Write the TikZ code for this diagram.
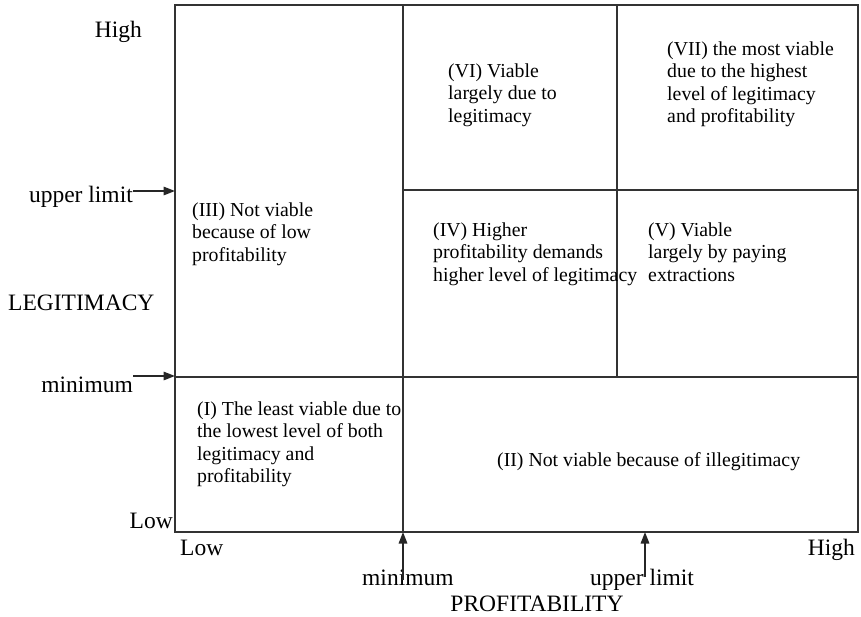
\documentclass[tikz,border=0pt]{standalone}
\usepackage{fontspec}
\setmainfont{Liberation Serif}
\usetikzlibrary{arrows.meta}
% stacked lines whose baseline is that of the first line
\newcommand{\celltext}[1]{\begin{tabular}[t]{@{}l@{}}#1\end{tabular}}
\begin{document}
\begin{tikzpicture}[x=1pt,y=-1pt,
  grid/.style={line width=1.6pt, draw=black!80},
  cell/.style={font=\fontsize{19.8}{22.6}\selectfont, inner sep=0pt, anchor=base west},
  axis/.style={font=\fontsize{23.5}{27}\selectfont, inner sep=0pt},
  marker/.style={line width=1.6pt, draw=black!85, -{Triangle[length=11.5pt,width=8.5pt]}}]
\useasboundingbox (0,0) rectangle (861,616);

% frame and grid corners
\coordinate (nw) at (175,5);
\coordinate (ne) at (858,5);
\coordinate (sw) at (175,532);
\coordinate (se) at (858,532);
\coordinate (pmin) at (403,5);
\coordinate (pmax) at (617,5);
\coordinate (lmin) at (175,377);
\coordinate (lmax) at (403,190);

% grid
\draw[grid] (nw) rectangle (se);
\draw[grid] (pmin) -- (pmin |- sw);
\draw[grid] (pmax) -- (pmax |- lmin);
\draw[grid] (lmax) -- (lmax -| ne);
\draw[grid] (lmin) -- (lmin -| ne);

% cell texts
\node[cell] (c1) at (197,415) {\celltext{(I) The least viable due to\\the lowest level of both\\legitimacy and\\profitability}};
\node[cell] (c2) at (497,466) {(II) Not viable because of illegitimacy};
\node[cell] (c3) at (192,216) {\celltext{(III) Not viable\\because of low\\profitability}};
\node[cell] (c4) at (433,236) {\celltext{(IV) Higher\\profitability demands\\higher level of legitimacy}};
\node[cell] (c5) at (648,236) {\celltext{(V) Viable\\largely by paying\\extractions}};
\node[cell] (c6) at (448,77) {\celltext{(VI) Viable\\largely due to\\legitimacy}};
\node[cell] (c7) at (667,55) {\celltext{(VII) the most viable\\due to the highest\\level of legitimacy\\and profitability}};

% vertical axis labels
\node[axis, anchor=base east] (yhigh) at (142,37) {High};
\node[axis, anchor=base east] (yup) at (133,202) {upper limit};
\node[axis, anchor=base west] (ylab) at (8,310) {LEGITIMACY};
\node[axis, anchor=base east] (ymin) at (133,392) {minimum};
\node[axis, anchor=base east] (ylow) at (173,528) {Low};

% horizontal axis labels
\node[axis, anchor=base west] (xlow) at (180,555) {Low};
\node[axis, anchor=base east] (xhigh) at (855,555) {High};
\node[axis, anchor=base west] (xmin) at (362,585) {minimum};
\node[axis, anchor=base west] (xup) at (590,585) {upper limit};
\node[axis, anchor=base] (xlab) at (537,611) {PROFITABILITY};

% threshold markers
\coordinate (yupS) at (133,191);
\coordinate (yminS) at (133,376);
\coordinate (xminS) at (403,580);
\coordinate (xupS) at (645,577);
\draw[marker] (yupS) -- (yupS -| nw);
\draw[marker] (yminS) -- (yminS -| nw);
\draw[marker] (xminS) -- (xminS |- sw);
\draw[marker] (xupS) -- (xupS |- sw);
\end{tikzpicture}
\end{document}
